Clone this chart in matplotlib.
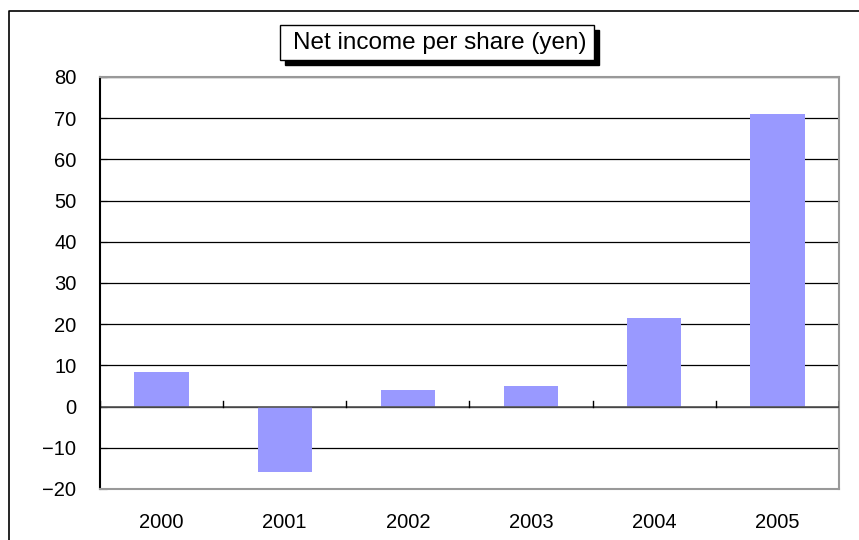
import matplotlib
matplotlib.use("Agg")
import matplotlib.pyplot as plt
from matplotlib.lines import Line2D
from matplotlib.patches import Rectangle

# Datos del grafico
anios = ["2000", "2001", "2002", "2003", "2004", "2005"]
beneficio = [8.3, -15.8, 4.1, 4.9, 21.4, 71.0]
ticks_y = [-20, -10, 0, 10, 20, 30, 40, 50, 60, 70, 80]

plt.rcParams['font.family'] = ['Liberation Sans', 'DejaVu Sans']

fig = plt.figure(figsize=(8.59, 5.40), dpi=100)
# Borde exterior del grafico (solo izquierda y arriba, el resto queda fuera)
fig.lines.append(Line2D([8.5 / 859, 8.5 / 859, 1], [0, 1 - 10.5 / 540, 1 - 10.5 / 540],
                        transform=fig.transFigure, color="black", linewidth=1.2))

ax = fig.add_axes([100 / 859, 1 - 489 / 540, 739 / 859, 412 / 540])

x = list(range(len(anios)))
ax.bar(x, beneficio, width=0.44, color="#9999FF", zorder=2)

ax.set_xlim(-0.5, len(anios) - 0.5)
ax.set_ylim(-20, 80)
ax.set_yticks(ticks_y)
ax.set_yticklabels([str(t).replace("-", "\u2212") for t in ticks_y], fontsize=14.5)
for t in ticks_y:
    ax.axhline(t, color="black", linewidth=0.9, zorder=1)
ax.axhline(0, color="#555555", linewidth=1.2, zorder=3)

# Marcas del eje x sobre la linea del cero
for i in range(len(anios) + 1):
    ax.plot([i - 0.5, i - 0.5], [0, 1.3], color="black", linewidth=1, zorder=3)

ax.set_xticks(x)
ax.set_xticklabels(anios, fontsize=14.5)
ax.tick_params(axis="x", length=0, pad=17)
ax.tick_params(axis="y", length=5, direction="in", pad=17)

ax.spines["left"].set_color("black")
ax.spines["left"].set_linewidth(1.5)
for s in ["bottom", "right", "top"]:
    ax.spines[s].set_color("#999999")
    ax.spines[s].set_linewidth(1.5)

# Titulo en caja con sombra
fig.patches.append(Rectangle((285 / 859, 1 - 65 / 540), 314 / 859, 35 / 540,
                             transform=fig.transFigure, facecolor="black",
                             edgecolor="black", zorder=5))
fig.patches.append(Rectangle((280 / 859, 1 - 60 / 540), 314 / 859, 35 / 540,
                             transform=fig.transFigure, facecolor="white",
                             edgecolor="black", linewidth=1, zorder=6))
fig.text(440 / 859, 1 - 43 / 540, "Net income per share (yen)", fontsize=17.5,
         ha="center", va="center", zorder=7)

fig.savefig("out.png", dpi=100)
